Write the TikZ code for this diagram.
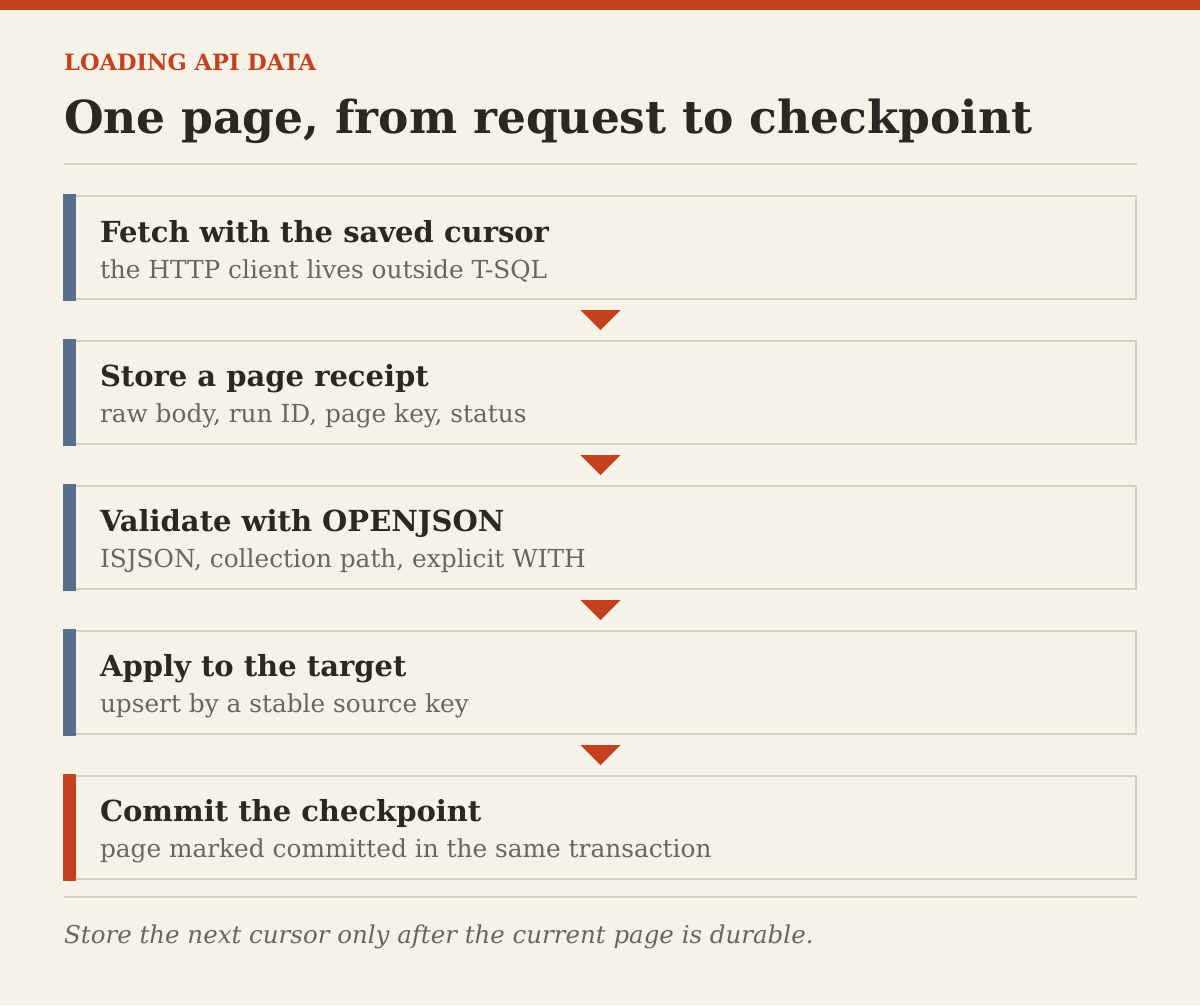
\documentclass[tikz,border=0pt]{standalone}
\usepackage{fontspec}
\setmainfont{DejaVu Serif}
\usetikzlibrary{positioning}

\definecolor{paper}{HTML}{F7F2E8}
\definecolor{rust}{HTML}{C4411F}
\definecolor{slate}{HTML}{56708C}
\definecolor{ink}{HTML}{2B2722}
\definecolor{muted}{HTML}{6B655C}
\definecolor{hair}{HTML}{D6CFC3}

\newcommand{\steptitle}[1]{{\fontsize{29}{36}\selectfont\bfseries\color{ink}\rule{0pt}{30pt}#1}}

\begin{document}
\begin{tikzpicture}[
x=1pt, y=1pt,
stepbox/.style={rectangle, draw=hair, fill=paper, line width=2pt, minimum width=1071pt, minimum height=103pt, text width=1001pt, inner xsep=35pt, align=flush left, text=muted, font=\fontsize{24.8}{36}\selectfont},
rule/.style={draw=hair, line width=2pt},
node distance=40pt
]
\useasboundingbox[fill=paper] (0,0) rectangle (1200,-1005);
\fill[rust] (0,0) rectangle (1200,-10);

%Header
\node[anchor=base west, inner sep=0, text=rust, font=\fontsize{22.5}{24}\selectfont\bfseries] (kicker) at (64,-70) {LOADING API DATA};
\node[anchor=base west, inner sep=0, text=ink, font=\fontsize{45.5}{50}\selectfont\bfseries] (title) at (64,-133) {One page, from request to checkpoint};
\draw[rule] (64,-164) -- (1137,-164);

%Nodes
\node[stepbox] (S1) at (600.5,-247.5) {\steptitle{Fetch with the saved cursor}\\the HTTP client lives outside T-SQL};
\node[stepbox] (S2) [below=of S1] {\steptitle{Store a page receipt}\\raw body, run ID, page key, status};
\node[stepbox] (S3) [below=of S2] {\steptitle{Validate with OPENJSON}\\ISJSON, collection path, explicit WITH};
\node[stepbox] (S4) [below=of S3] {\steptitle{Apply to the target}\\upsert by a stable source key};
\node[stepbox] (S5) [below=of S4] {\steptitle{Commit the checkpoint}\\page marked committed in the same transaction};

%Accent bars
\foreach \s in {S1,S2,S3,S4}
  \fill[slate] ([xshift=-1pt,yshift=1pt]\s.north west) rectangle ([xshift=12pt,yshift=-1pt]\s.south west);
\fill[rust] ([xshift=-1pt,yshift=1pt]S5.north west) rectangle ([xshift=12pt,yshift=-1pt]S5.south west);

%Lines
\foreach \a/\b in {S1/S2, S2/S3, S3/S4, S4/S5} {
  \path (\a.south) -- coordinate[midway] (m\a) (\b.north);
  \fill[rust] (m\a) ++(-20,10) -- ++(40,0) -- ++(-20,-20) -- cycle;
}

%Footer
\draw[rule] (64,-897) -- (1137,-897);
\node[anchor=base west, inner sep=0, text=muted, font=\fontsize{24.5}{26}\selectfont\itshape] (note) at (64,-943) {Store the next cursor only after the current page is durable.};
\end{tikzpicture}
\end{document}
